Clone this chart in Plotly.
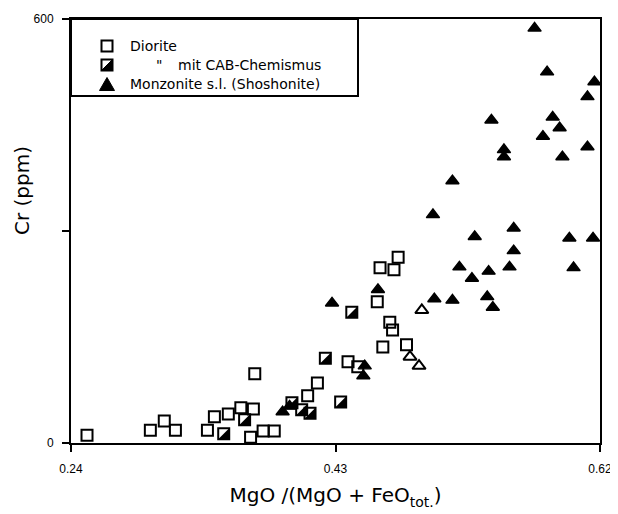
import plotly.graph_objects as go

# ---- data ----
diorite_x = [0.2515, 0.297, 0.307, 0.315, 0.338, 0.343, 0.353, 0.362, 0.371, 0.372,
             0.369, 0.378, 0.386, 0.417, 0.410, 0.439, 0.446, 0.464, 0.481, 0.469,
             0.471, 0.460, 0.462, 0.472, 0.475]
diorite_y = [11, 18, 31, 18, 18, 37, 41, 50, 48, 98,
             8, 17, 17, 85, 67, 115, 108, 136, 139, 171,
             160, 200, 248, 245, 263]

cab_x = [0.424, 0.443, 0.435, 0.351, 0.366, 0.400, 0.407, 0.413]
cab_y = [120, 185, 58, 13, 33, 57, 47, 42]

monz_x = [0.573, 0.582, 0.616, 0.611, 0.542, 0.586, 0.591, 0.579, 0.551, 0.551,
          0.611, 0.593, 0.514, 0.500, 0.530, 0.558, 0.558, 0.598, 0.615, 0.519,
          0.540, 0.555, 0.528, 0.601, 0.501, 0.514, 0.539, 0.543, 0.4275, 0.4605,
          0.451, 0.450, 0.392, 0.397]
monz_y = [587, 525, 511, 490, 457, 461, 446, 434, 415, 405,
          419, 405, 371, 323, 292, 304, 272, 290, 290, 249,
          243, 249, 233, 248, 204, 202, 207, 192, 198, 217,
          109, 95, 44, 52]

open_tri_x = [0.492, 0.4835, 0.490]
open_tri_y = [188, 122, 109]

x_ticks = [0.24, 0.43, 0.62]
x_ticktext = ["0.24", "0.43", "0.62"]
y_ticks = [0, 600]
y_ticktext = ["0", "600"]
y_minor_ticks = [300]

legend_labels = ["Diorite", "\"", "mit CAB-Chemismus", "Monzonite s.l. (Shoshonite)"]

# page body has an 8 px margin -> figure is 8 px smaller, margins compensate
W, H = 610, 506
ML, MR, MT, MB = 63, 18, 11, 71
PW, PH = W - ML - MR, H - MT - MB   # plot area in px (529 x 424)

fig = go.Figure()

fig.add_trace(go.Scatter(
    x=diorite_x, y=diorite_y, mode="markers", name="Diorite", showlegend=False,
    marker=dict(symbol="square-open", size=11, color="black", line=dict(width=2, color="black"))))

# half-filled squares: lower-right half black
fig.add_trace(go.Scatter(
    x=cab_x, y=cab_y, mode="markers", name="mit CAB-Chemismus", showlegend=False,
    marker=dict(symbol="triangle-se", size=12.2, color="black", standoff=1.8,
                line=dict(width=0))))
fig.add_trace(go.Scatter(
    x=cab_x, y=cab_y, mode="markers", name="mit CAB-Chemismus", showlegend=False,
    marker=dict(symbol="square-open", size=11, color="black", angle=90, standoff=1.8,
                line=dict(width=2, color="black"))))

fig.add_trace(go.Scatter(
    x=open_tri_x, y=open_tri_y, mode="markers", name="open", showlegend=False,
    marker=dict(symbol="triangle-up-open", size=11.5, color="black", line=dict(width=2, color="black"))))

fig.add_trace(go.Scatter(
    x=monz_x, y=monz_y, mode="markers", name="Monzonite s.l. (Shoshonite)", showlegend=False,
    marker=dict(symbol="triangle-up", size=11.5, color="black", line=dict(width=1.4, color="black"))))

# ---- legend (box, keys, labels) ----
fig.add_shape(type="rect", xref="paper", yref="paper", x0=0, x1=287 / PW, y0=1 - 77 / PH, y1=1.0,
              line=dict(color="black", width=2), fillcolor="white", layer="below")

key_cx = 36 / PW                      # key centre (px from plot left)
rows_px = [27, 46, 65]                # row centres (px from plot top)
rows_y = [1 - r / PH for r in rows_px]
hx, hy = 5.5 / PW, 5.5 / PH
# open square
fig.add_shape(type="rect", xref="paper", yref="paper",
              x0=key_cx - hx, x1=key_cx + hx, y0=rows_y[0] - hy, y1=rows_y[0] + hy,
              line=dict(color="black", width=2), fillcolor="rgba(0,0,0,0)")
# half-filled square
fig.add_shape(type="path", xref="paper", yref="paper",
              path=f"M {key_cx + hx} {rows_y[1] + hy} L {key_cx + hx} {rows_y[1] - hy} "
                   f"L {key_cx - hx} {rows_y[1] - hy} Z",
              line=dict(color="black", width=1), fillcolor="black")
fig.add_shape(type="rect", xref="paper", yref="paper",
              x0=key_cx - hx, x1=key_cx + hx, y0=rows_y[1] - hy, y1=rows_y[1] + hy,
              line=dict(color="black", width=2), fillcolor="rgba(0,0,0,0)")
# filled triangle
tw, th = 7.5 / PW, 6.5 / PH
fig.add_shape(type="path", xref="paper", yref="paper",
              path=f"M {key_cx - tw} {rows_y[2] - th} L {key_cx + tw} {rows_y[2] - th} "
                   f"L {key_cx} {rows_y[2] + th} Z",
              line=dict(color="black", width=1), fillcolor="black")

lab_font = dict(family="DejaVu Sans, Verdana, sans-serif", size=14, color="black")
fig.add_annotation(x=57 / PW, y=rows_y[0], xref="paper", yref="paper", text=legend_labels[0],
                   showarrow=False, xanchor="left", yanchor="middle", font=lab_font)
fig.add_annotation(x=83 / PW, y=rows_y[1], xref="paper", yref="paper", text=legend_labels[1],
                   showarrow=False, xanchor="left", yanchor="middle", font=lab_font)
fig.add_annotation(x=105 / PW, y=rows_y[1], xref="paper", yref="paper", text=legend_labels[2],
                   showarrow=False, xanchor="left", yanchor="middle", font=lab_font)
fig.add_annotation(x=57 / PW, y=rows_y[2], xref="paper", yref="paper", text=legend_labels[3],
                   showarrow=False, xanchor="left", yanchor="middle", font=lab_font)

title_font = dict(family="DejaVu Sans, Verdana, sans-serif", size=20, color="black")
# y-axis title
fig.add_annotation(x=-49 / PW, y=1 - 172 / PH, xref="paper", yref="paper", text="Cr (ppm)",
                   textangle=-90, showarrow=False, xanchor="center", yanchor="middle",
                   font=title_font)

tick_font = dict(family="Liberation Sans, Arial, sans-serif", size=12, color="black")
fig.update_xaxes(range=[0.24, 0.62], tickvals=x_ticks, ticktext=x_ticktext, automargin=False,
                 showline=True, linewidth=2, linecolor="black", mirror=True,
                 ticks="outside", ticklen=7, tickwidth=2, tickcolor="black",
                 showgrid=False, zeroline=False, tickfont=tick_font, ticklabelstandoff=7,
                 title=dict(text="MgO /(MgO + FeO<sub>tot.</sub>)", standoff=13, font=title_font))
fig.update_yaxes(range=[0, 600], tickvals=y_ticks, ticktext=y_ticktext, automargin=False,
                 showline=True, linewidth=2, linecolor="black", mirror=True,
                 ticks="outside", ticklen=7, tickwidth=2, tickcolor="black",
                 minor=dict(tickvals=y_minor_ticks, ticks="outside", ticklen=7, tickwidth=2,
                            tickcolor="black", showgrid=False),
                 showgrid=False, zeroline=False, tickfont=tick_font, ticklabelstandoff=6)

fig.update_layout(width=W, height=H, margin=dict(l=ML, r=MR, t=MT, b=MB),
                  template="none",
                  paper_bgcolor="white", plot_bgcolor="white", showlegend=False)

fig.write_html("out.html")
